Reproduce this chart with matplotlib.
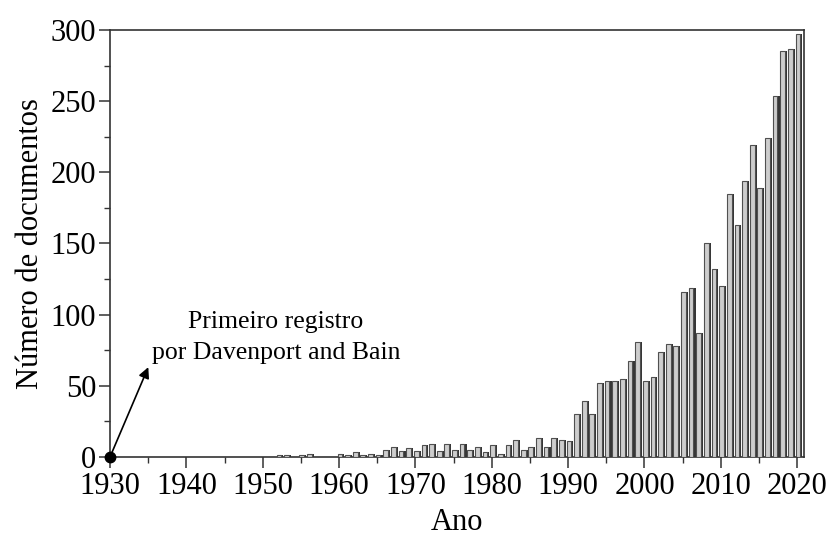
"""Documents per year, 1930-2020 - bar chart with shaded bars, saved as out.png."""

import numpy as np
import matplotlib.pyplot as plt
from matplotlib.ticker import MultipleLocator

# publication year -> number of documents
YEARS = np.arange(1950, 2021)
COUNTS = [
    0, 0, 1, 1, 0, 1, 2, 0, 0, 0,            # 1950-1959
    2, 1, 3, 1, 2, 1, 5, 7, 4, 6,            # 1960-1969
    4, 8, 9, 4, 9, 5, 9, 5, 7, 3,            # 1970-1979
    8, 2, 8, 12, 5, 7, 13, 7, 13, 12,        # 1980-1989
    11, 30, 39, 30, 52, 53, 53, 55, 67, 81,  # 1990-1999
    53, 56, 74, 79, 78, 116, 119, 87, 150, 132,   # 2000-2009
    120, 185, 163, 194, 219, 189, 224, 254, 285, 287,  # 2010-2019
    297,                                      # 2020
]

FIRST_YEAR = 1930  # first record (Davenport and Bain)
ARROW_TIP = (1935.0, 63.0)
NOTE = "Primeiro registro\npor Davenport and Bain"

FACE = "#cdcdcd"
SHADE = "#363636"


def main():
    plt.rcParams.update({
        "font.family": "Liberation Serif",
        "font.size": 22,
    })

    fig = plt.figure(figsize=(8.28, 5.38), dpi=100)
    ax = fig.add_axes([0.133, 0.151, 0.838, 0.793])

    counts = np.array(COUNTS, dtype=float)
    # dark side band first, light face on top of it
    ax.bar(YEARS + 0.15, counts, width=0.55, align="edge",
           color=SHADE, linewidth=0, zorder=2)
    ax.bar(YEARS - 0.2, counts, width=0.62, align="edge",
           facecolor=FACE, edgecolor="#505050", linewidth=0.8, zorder=3)

    ax.plot([FIRST_YEAR], [0], "o", color="black", markersize=7.5,
            clip_on=False, zorder=6)
    ax.annotate("", xy=ARROW_TIP, xytext=(FIRST_YEAR, 0),
                arrowprops=dict(arrowstyle="-|>", color="black", lw=1.2,
                                mutation_scale=16, shrinkA=0, shrinkB=0),
                zorder=5)
    ax.text(1951.7, 84.0, NOTE, ha="center", va="center",
            fontsize=18.5, linespacing=1.5)

    ax.set_xlim(1930, 2020.9)
    ax.set_ylim(0, 300)
    ax.xaxis.set_major_locator(MultipleLocator(10))
    ax.xaxis.set_minor_locator(MultipleLocator(5))
    ax.yaxis.set_major_locator(MultipleLocator(50))
    ax.yaxis.set_minor_locator(MultipleLocator(25))
    ax.tick_params(which="major", direction="out", length=8, width=1.1,
                   color="#333333", labelsize=22)
    ax.tick_params(axis="x", which="major", pad=3)
    ax.tick_params(axis="y", which="major", pad=2)
    ax.tick_params(which="minor", direction="out", length=4.5, width=1.0,
                   color="#333333")
    for side in ax.spines.values():
        side.set_linewidth(1.2)
        side.set_color("#333333")

    ax.set_xlabel("Ano", fontsize=22, labelpad=5)
    ax.set_ylabel("Número de documentos", fontsize=22, labelpad=4)

    fig.savefig("out.png", dpi=100)


if __name__ == "__main__":
    main()
